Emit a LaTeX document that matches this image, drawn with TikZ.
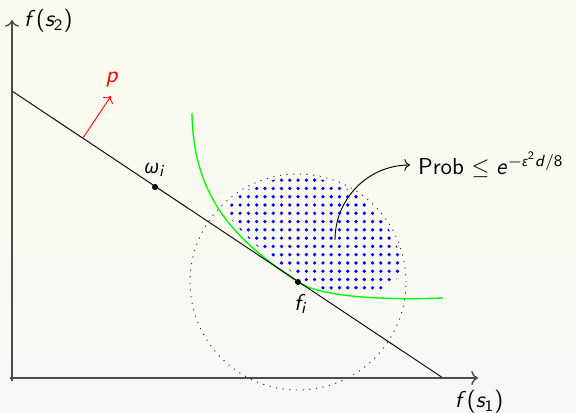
\documentclass[tikz,border=0pt]{standalone}
\usepackage{amsmath}
\usepackage[no-math]{fontspec}
\usepackage{tikz}
\usetikzlibrary{arrows.meta,patterns.meta}
\renewcommand{\familydefault}{\sfdefault}
% sans math, as on the slide
\SetSymbolFont{operators}{normal}{OT1}{cmss}{m}{n}
\SetSymbolFont{letters}{normal}{OT1}{cmss}{m}{sl}
\DeclareMathSymbol{/}{\mathord}{operators}{"2F}
\newfontfamily\grkfont{Noto Sans}[Scale=MatchLowercase]
\newcommand{\sfomega}{\text{\grkfont\itshape ω}}
\newcommand{\sfeps}{\text{\grkfont\itshape ε}}
\definecolor{bgtop}{RGB}{251,251,237}
\definecolor{bgbot}{RGB}{247,247,246}

\begin{document}
\begin{tikzpicture}[x=0.4348pt,y=0.4348pt,font=\normalsize,
    axis/.style={->,line width=0.6pt,black!70},
    dotpt/.style={circle,fill=black,inner sep=0pt,minimum size=2.6pt}]
  % background
  \shade[top color=bgtop,bottom color=bgbot] (0,0) rectangle (576,412);
  \useasboundingbox (0,0) rectangle (576,412);
  \coordinate (fi) at (298,130);
  % region of dots
  \begin{scope}
    \clip (fi) circle[radius=105];
    \fill[pattern={Dots[distance=3.6pt,radius=0.8pt]},pattern color=blue]
      (196,299) .. controls (197,212) and (244,170) .. (302,134)
      .. controls (330,112) and (385,110) .. (403,142)
      -- (440,200) -- (440,330) -- (196,330) -- cycle;
  \end{scope}
  % ball round f_i
  \draw[black!80,dash pattern=on 0.5pt off 2.4pt] (fi) circle[radius=108];
  % level curve
  \draw[green,line width=0.6pt] (192,299) .. controls (193,212) and (238,170) .. (fi)
    .. controls (322,114) and (390,112) .. (443,114);
  % hyperplane
  \coordinate (la) at (12,321);
  \coordinate (lb) at (443,34);
  \draw (la) -- (lb);
  % axes
  \draw[axis] (10,34) -- (478,34) coordinate (xend);
  \draw[axis] (12,31) -- (12,392) coordinate (yend);
  \node[anchor=west] (ylab) at (16,391) {$f(s_2)$};
  \node (xlab) at (479,10) {$f(s_1)$};
  % normal p
  \coordinate (pa) at (83,274);
  \coordinate (pb) at (111,316);
  \draw[->,red] (pa) -- (pb);
  \node[red] (plab) at (112,332) {$p$};
  % points
  \node[dotpt] (wi) at (155,225) {};
  \node (wlab) at (155,242) {$\sfomega_i$};
  \node[dotpt] (fdot) at (fi) {};
  \node (flab) at (301,108) {$f_i$};
  % probability
  \node[anchor=west] (prob) at (410,247) {Prob $\leq e^{-\sfeps^2 d/8}$};
  \coordinate (ps) at (335,172);
  \draw[->] (ps) to[out=90,in=180] (prob.west);
\end{tikzpicture}
\end{document}
